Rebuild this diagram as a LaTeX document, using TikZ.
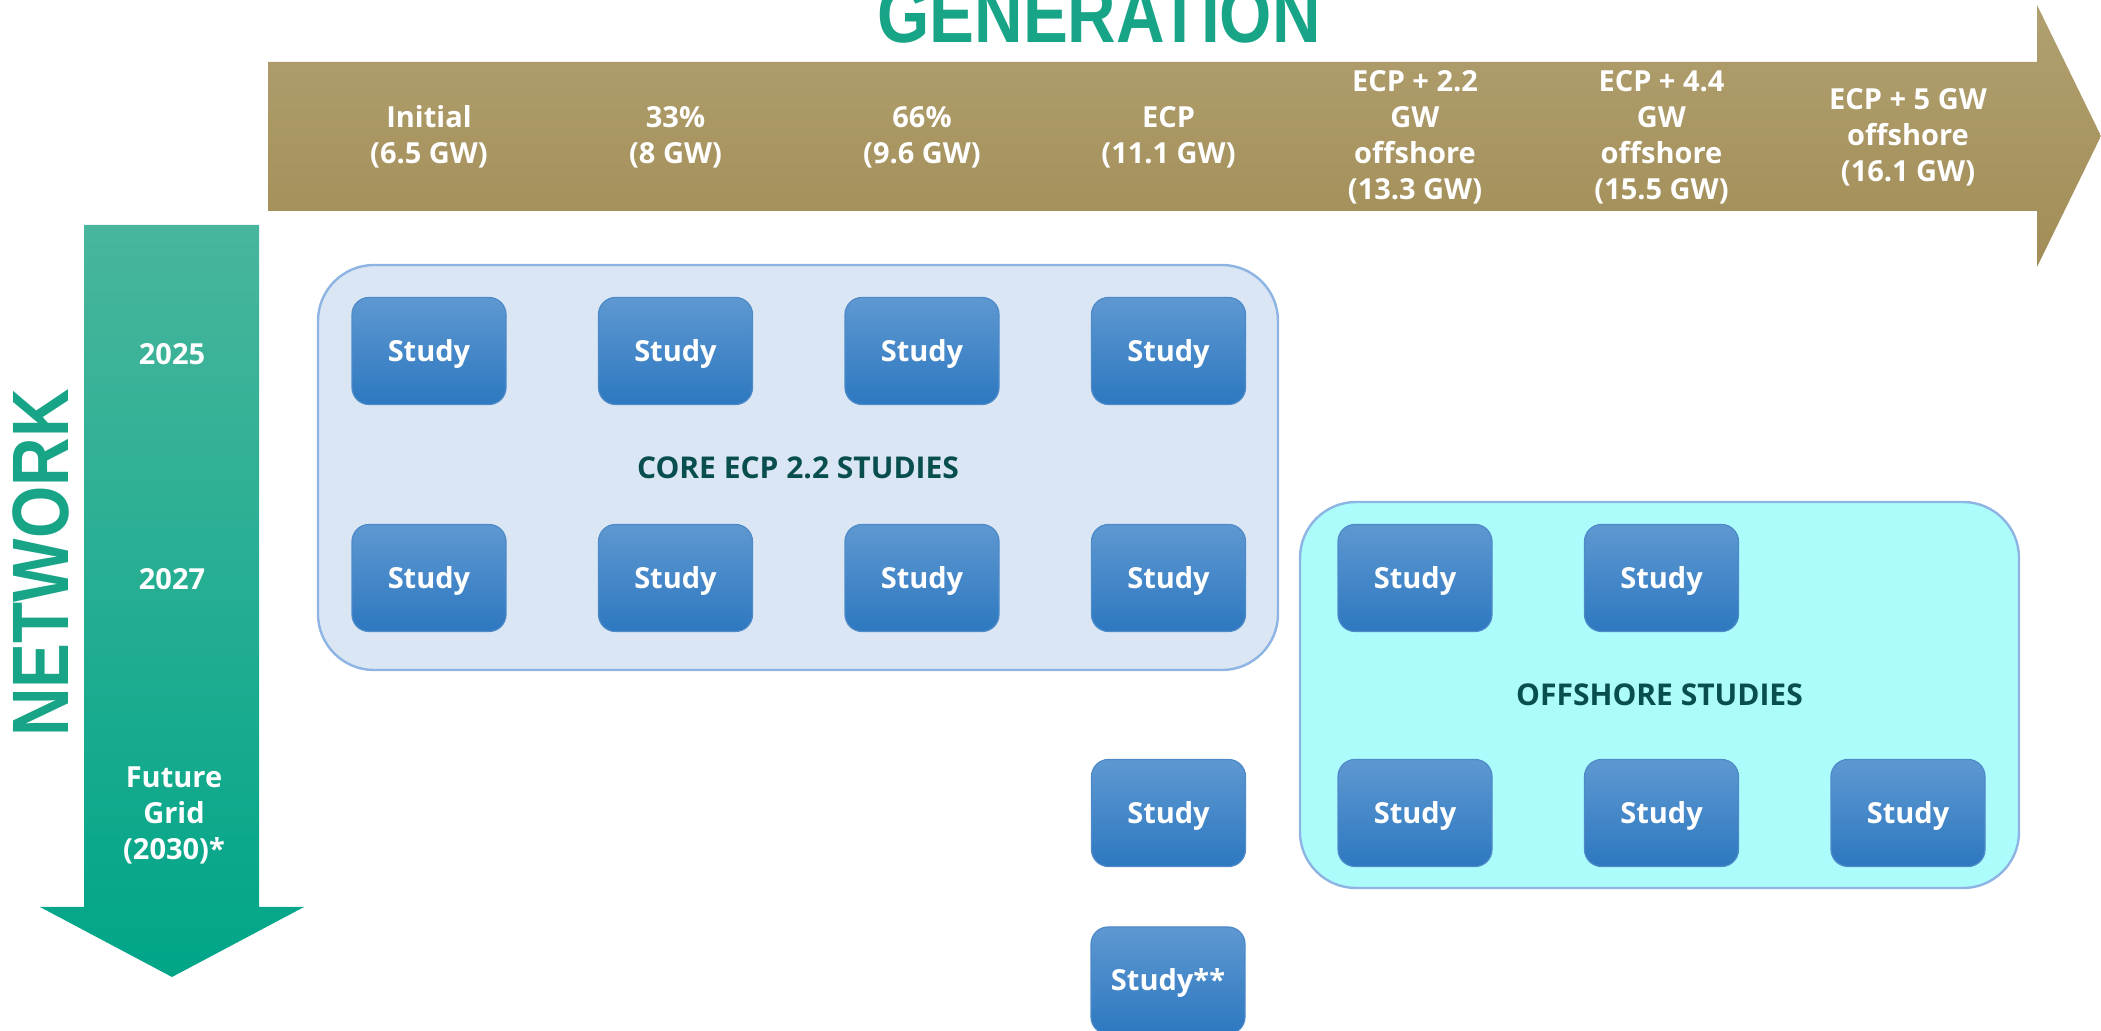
\documentclass[tikz,border=0pt]{standalone}
\usepackage{fontspec}
\setmainfont{Open Sans}
\newfontfamily\headfont{Liberation Sans}[FakeStretch=0.84]

\definecolor{goldtop}{RGB}{176,160,112}
\definecolor{goldbot}{RGB}{162,141,86}
\definecolor{nettop}{RGB}{72,182,156}
\definecolor{netbot}{RGB}{0,165,136}
\definecolor{titleteal}{RGB}{24,164,134}
\definecolor{studytop}{RGB}{94,152,209}
\definecolor{studybot}{RGB}{45,120,192}
\definecolor{studyline}{RGB}{78,138,200}
\definecolor{corefill}{RGB}{218,230,243}
\definecolor{boxline}{RGB}{141,180,226}
\definecolor{offfill}{RGB}{173,252,252}
\definecolor{darkteal}{RGB}{8,78,78}

\newcommand{\studyrow}[3]{   % row name, y, columns
	\foreach \c in {#3}
	{
		\node[study] (#1-\c) at ({429 + (\c - 1)*246.5}, #2) {Study};
	}
}

\begin{document}
\begin{tikzpicture}[x=0.5pt, y=-0.5pt,
	study/.style={rounded corners=8.5pt, draw=studyline, line width=0.6pt,
		top color=studytop, bottom color=studybot, text=white,
		minimum width=77pt, minimum height=53.5pt, inner sep=0pt,
		text height=10.4pt, text depth=0pt,
		font=\bfseries\fontsize{14.5}{17}\selectfont},
	genlabel/.style={text=white, align=center, inner sep=0pt,
		font=\bfseries\fontsize{14.5}{18}\selectfont},
	netlabel/.style={text=white, align=center, inner sep=0pt,
		font=\bfseries\fontsize{14.5}{18}\selectfont},
	group/.style={rounded corners=28pt, draw=boxline, line width=1.2pt,
		text=darkteal, font=\bfseries\fontsize{15}{18}\selectfont},
	headline/.style={text=titleteal, inner sep=0pt,
		font=\headfont\bfseries\fontsize{40}{40}\selectfont}]

\useasboundingbox (0,0) rectangle (2101,1031);

% generation arrow
\shade[top color=goldtop, bottom color=goldbot]
	(268,62) -- (2037,62) -- (2037,5) -- (2101,136) -- (2037,267) -- (2037,211) -- (268,211) -- cycle;
\node[headline] (gen) at (1099,15) {GENERATION};

\foreach \c/\txt in {1/{Initial\\(6.5 GW)}, 2/{33\%\\(8 GW)}, 3/{66\%\\(9.6 GW)},
	4/{ECP\\(11.1 GW)}, 5/{ECP + 2.2\\GW\\offshore\\(13.3 GW)},
	6/{ECP + 4.4\\GW\\offshore\\(15.5 GW)}, 7/{ECP + 5 GW\\offshore\\(16.1 GW)}}
{
	\node[genlabel] (g\c) at ({429 + (\c - 1)*246.5}, 137) {\txt};
}

% network arrow
\shade[top color=nettop, bottom color=netbot]
	(84,225) -- (259,225) -- (259,907) -- (304,907) -- (172,977) -- (40,907) -- (84,907) -- cycle;
\node[headline, rotate=90] (net) at (41,563) {NETWORK};

\node[netlabel] (y2025) at (172,354) {2025};
\node[netlabel] (y2027) at (172,579) {2027};
\node[netlabel] (y2030) at (174,815) {Future\\Grid\\(2030)*};

% groups
\node[group, fill=corefill, minimum width=480pt, minimum height=202.5pt] (core) at (798,467.5) {CORE ECP 2.2 STUDIES};
\node[group, fill=offfill, minimum width=359.5pt, minimum height=193pt] (off) at (1659.5,695) {OFFSHORE STUDIES};

% studies
\studyrow{r2025}{351}{1,2,3,4}
\studyrow{r2027}{578}{1,2,3,4,5,6}
\studyrow{r2030}{813}{4,5,6,7}
\node[study] (extra) at (1168,980.5) {Study**};

\end{tikzpicture}
\end{document}
